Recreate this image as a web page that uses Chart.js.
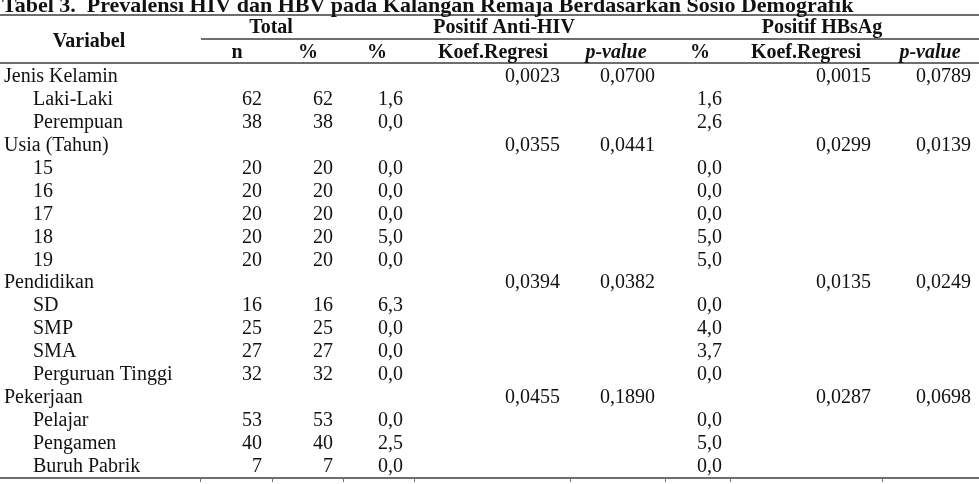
<!DOCTYPE html>
<html>
<head>
<meta charset="utf-8">
<script src="https://cdn.jsdelivr.net/npm/chart.js@4/dist/chart.umd.min.js"></script>
<style>
html,body{margin:0;padding:0;background:#fff;}
canvas{display:block;}
</style>
</head>
<body>
<canvas id="c" width="979" height="484"></canvas>
<script>
// ---------- DATA ----------
const title = "Tabel 3.  Prevalensi HIV dan HBV pada Kalangan Remaja Berdasarkan Sosio Demografik";
const groupHeaders = ["Total", "Positif Anti-HIV", "Positif HBsAg"];
const subHeaders = ["n", "%", "%", "Koef.Regresi", "p-value", "%", "Koef.Regresi", "p-value"];
const rowHeader = "Variabel";
const rowLabels = ["Jenis Kelamin","Laki-Laki","Perempuan","Usia (Tahun)","15","16","17","18","19",
  "Pendidikan","SD","SMP","SMA","Perguruan Tinggi","Pekerjaan","Pelajar","Pengamen","Buruh Pabrik"];
const rowLevel = [0,1,1,0,1,1,1,1,1,0,1,1,1,1,0,1,1,1];
const nVals    = [null,62,38,null,20,20,20,20,20,null,16,25,27,32,null,53,40,7];
const totPct   = [null,62,38,null,20,20,20,20,20,null,16,25,27,32,null,53,40,7];
const hivPct   = [null,1.6,0.0,null,0.0,0.0,0.0,5.0,0.0,null,6.3,0.0,0.0,0.0,null,0.0,2.5,0.0];
const hivKoef  = [0.0023,null,null,0.0355,null,null,null,null,null,0.0394,null,null,null,null,0.0455,null,null,null];
const hivP     = [0.0700,null,null,0.0441,null,null,null,null,null,0.0382,null,null,null,null,0.1890,null,null,null];
const hbsPct   = [null,1.6,2.6,null,0.0,0.0,0.0,5.0,5.0,null,0.0,4.0,3.7,0.0,null,0.0,5.0,0.0];
const hbsKoef  = [0.0015,null,null,0.0299,null,null,null,null,null,0.0135,null,null,null,null,0.0287,null,null,null];
const hbsP     = [0.0789,null,null,0.0139,null,null,null,null,null,0.0249,null,null,null,null,0.0698,null,null,null];

// ---------- LAYOUT (x in px units, y in row units) ----------
const L = {
  labelX: [4, 33],
  colRight: [262, 333, 403, 560, 655, 722, 871, 971],
  subCenter: [237, 308, 377, 493, 616, 700, 806, 930],
  groupCenter: [271, 504, 822],
  yMin: -3.594, yMax: 17.541,
  yTitle: -3.07, yGroup: -2.14, yVariabel: -1.555, ySub: -1.048,
  lineTop: -2.955, lineGroup: -1.885, lineHead: -0.85, lineBottom: 17.3,
  bottomTicks: [200, 272, 343, 414, 570, 665, 730, 882]
};
const fmt1 = v => v.toFixed(1).replace('.', ',');
const fmt4 = v => v.toFixed(4).replace('.', ',');
const fmtI = v => String(v);

const FONT = '"Liberation Serif","Times New Roman",serif';
const columns = [
  {vals: nVals, f: fmtI}, {vals: totPct, f: fmtI}, {vals: hivPct, f: fmt1},
  {vals: hivKoef, f: fmt4}, {vals: hivP, f: fmt4}, {vals: hbsPct, f: fmt1},
  {vals: hbsKoef, f: fmt4}, {vals: hbsP, f: fmt4}
];

const datasets = [];
// label column
datasets.push({
  kind: 'text', align: 'left', font: '20px ' + FONT,
  data: rowLabels.map((t, i) => ({x: L.labelX[rowLevel[i]], y: i, t: t}))
});
columns.forEach((c, ci) => {
  const d = [];
  c.vals.forEach((v, i) => { if (v !== null) d.push({x: L.colRight[ci], y: i, t: c.f(v)}); });
  datasets.push({kind: 'text', align: 'right', font: '20px ' + FONT, data: d});
});
// headers
datasets.push({kind: 'text', align: 'left', font: 'bold 22px ' + FONT,
  data: [{x: 2, y: L.yTitle, t: title}]});
datasets.push({kind: 'text', align: 'center', font: 'bold 20px ' + FONT,
  data: groupHeaders.map((t, i) => ({x: L.groupCenter[i], y: L.yGroup, t: t}))
    .concat([{x: 89, y: L.yVariabel, t: rowHeader}])});
datasets.push({kind: 'text', align: 'center', font: 'bold 20px ' + FONT,
  data: subHeaders.map((t, i) => ({x: L.subCenter[i], y: L.ySub, t: t})).filter(p => p.t !== 'p-value')});
datasets.push({kind: 'text', align: 'center', font: 'italic bold 20px ' + FONT,
  data: subHeaders.map((t, i) => ({x: L.subCenter[i], y: L.ySub, t: t})).filter(p => p.t === 'p-value')});

datasets.forEach(d => { d.pointRadius = 0; d.pointHoverRadius = 0; d.showLine = false; });

const tablePlugin = {
  id: 'tableText',
  afterDatasetsDraw(chart) {
    const ctx = chart.ctx, xs = chart.scales.x, ys = chart.scales.y;
    ctx.save();
    // rules
    ctx.fillStyle = '#6e6e6e';
    const rule = (v, x0, x1, h) => {
      const y = ys.getPixelForValue(v);
      ctx.fillRect(xs.getPixelForValue(x0), Math.round(y - h / 2), xs.getPixelForValue(x1) - xs.getPixelForValue(x0), h);
    };
    rule(L.lineTop, 0, 979, 2);
    rule(L.lineGroup, 201, 979, 2);
    rule(L.lineHead, 0, 979, 2);
    rule(L.lineBottom, 0, 979, 2);
    const yb = Math.round(ys.getPixelForValue(L.lineBottom));
    L.bottomTicks.forEach(x => ctx.fillRect(Math.round(xs.getPixelForValue(x)), yb, 1, 4));
    // text
    ctx.fillStyle = '#111';
    ctx.textBaseline = 'alphabetic';
    chart.data.datasets.forEach((ds, di) => {
      const meta = chart.getDatasetMeta(di);
      ctx.font = ds.font;
      ctx.textAlign = ds.align;
      meta.data.forEach((el, i) => {
        ctx.fillText(ds.data[i].t, el.x, el.y);
      });
    });
    ctx.restore();
  }
};

new Chart(document.getElementById('c'), {
  type: 'scatter',
  data: {datasets: datasets},
  options: {
    responsive: false,
    animation: false,
    devicePixelRatio: 1,
    layout: {padding: 0},
    plugins: {legend: {display: false}, tooltip: {enabled: false}},
    events: [],
    scales: {
      x: {type: 'linear', min: 0, max: 979, display: false},
      y: {type: 'linear', min: L.yMin, max: L.yMax, reverse: true, display: false}
    }
  },
  plugins: [tablePlugin]
});
</script>
</body>
</html>
